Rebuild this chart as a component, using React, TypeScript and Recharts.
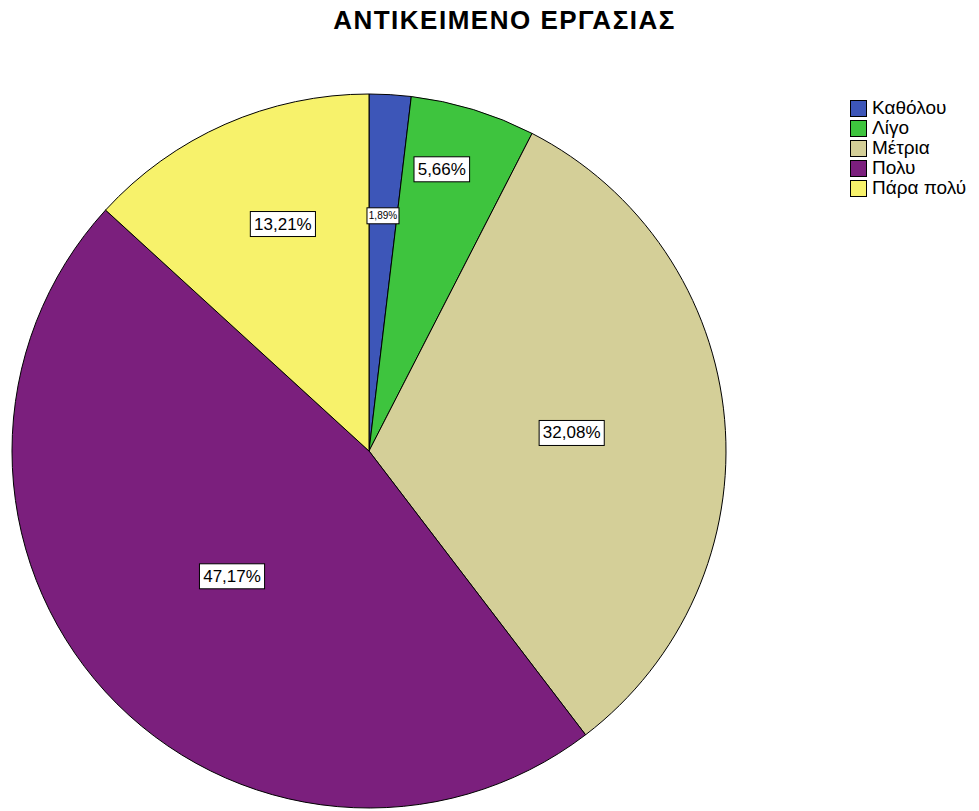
import React from 'react';
import { PieChart, Pie, Cell, Legend } from 'recharts';

// answer categories and their share of responses (%)
const categories = ['Καθόλου', 'Λίγο', 'Μέτρια', 'Πολυ', 'Πάρα πολύ'];
const shares = [1.89, 5.66, 32.08, 47.17, 13.21];
const colors = ['#3d56b8', '#3ec43e', '#d4cf98', '#7b1f7d', '#f7f26b'];

const title = 'ΑΝΤΙΚΕΙΜΕΝΟ ΕΡΓΑΣΙΑΣ';

const data = categories.map((name, i) => ({ name, value: shares[i] }));

// how far out each label sits (fraction of the radius), plus a small angle nudge
const labelDepth = [0.66, 0.815, 0.57, 0.52, 0.68];
const labelNudge = [0, 2.5, 0, 0, -3];

const RADIAN = Math.PI / 180;

const renderLabel = (props: any) => {
  const { cx, cy, midAngle, outerRadius, value, index } = props;
  const r = outerRadius * labelDepth[index];
  const a = (midAngle + labelNudge[index]) * RADIAN;
  const x = cx + r * Math.cos(-a);
  const y = cy + r * Math.sin(-a);
  const text = value.toFixed(2).replace('.', ',') + '%';
  const small = value < 3;
  const fs = small ? 10 : 17;
  const w = text.length * fs * 0.56 + (small ? 4 : 8);
  const h = small ? 16 : 25;
  return (
    <g>
      <rect x={x - w / 2} y={y - h / 2} width={w} height={h} fill="#fff" stroke="#000" strokeWidth={1} />
      <text x={x} y={y + 1} textAnchor="middle" dominantBaseline="middle" fontSize={fs} fill="#000"
        fontFamily="'Liberation Sans', Arial, sans-serif">
        {text}
      </text>
    </g>
  );
};

const LegendBox = () => (
  <div style={{ fontFamily: "'Liberation Sans', Arial, sans-serif", fontSize: 19, color: '#000' }}>
    {categories.map((c, i) => (
      <div key={c} style={{ display: 'flex', alignItems: 'center', height: 20 }}>
        <span style={{ display: 'inline-block', width: 15, height: 15, background: colors[i], border: '1px solid #000', marginRight: 5, flexShrink: 0 }} />
        <span style={{ whiteSpace: 'nowrap' }}>{c}</span>
      </div>
    ))}
  </div>
);

export default function App() {
  return (
    <div style={{ position: 'absolute', left: 0, top: 0, width: 979, height: 811, background: '#fff' }}>
      <div style={{ position: 'absolute', left: 0, width: 979, top: 5, textAlign: 'center', paddingLeft: 30, boxSizing: 'border-box',
        fontFamily: "'Liberation Sans', Arial, sans-serif", fontWeight: 'bold', fontSize: 26, letterSpacing: 1.5, color: '#000' }}>
        {title}
      </div>
      <PieChart width={979} height={811}>
        <Pie
          data={data}
          dataKey="value"
          nameKey="name"
          cx={364}
          cy={446}
          outerRadius={357}
          startAngle={90}
          endAngle={-270}
          stroke="#000"
          strokeWidth={1}
          label={renderLabel}
          labelLine={false}
          isAnimationActive={false}
        >
          {data.map((d, i) => (
            <Cell key={d.name} fill={colors[i]} />
          ))}
        </Pie>
        <Legend content={<LegendBox />} layout="vertical" verticalAlign="top" align="right"
          wrapperStyle={{ left: 850, top: 98, width: 129 }} />
      </PieChart>
    </div>
  );
}
